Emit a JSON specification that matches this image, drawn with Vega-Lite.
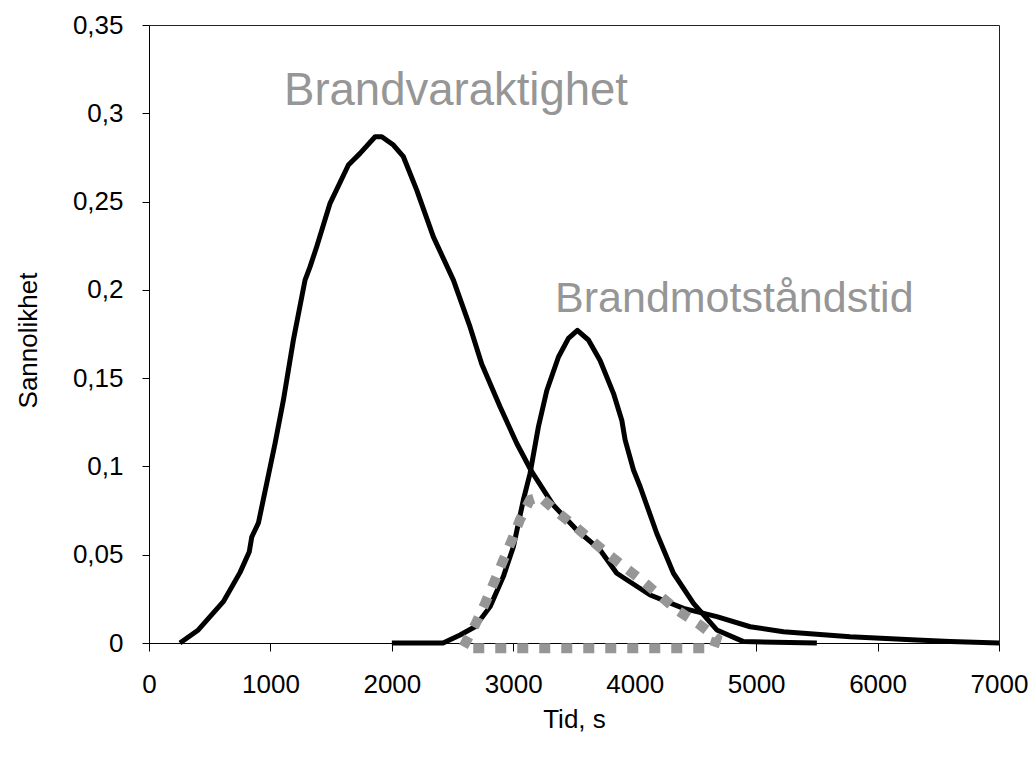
{
  "$schema": "https://vega.github.io/schema/vega-lite/v6.json",
  "width": 850,
  "height": 618,
  "autosize": {"type": "none"},
  "padding": {"left": 149, "top": 25, "right": 35, "bottom": 116},
  "background": "white",
  "config": {
    "view": {"stroke": "#222", "strokeWidth": 1},
    "font": "Liberation Sans",
    "axis": {
      "grid": false,
      "domainColor": "#000",
      "tickColor": "#000",
      "labelColor": "#000",
      "titleColor": "#000",
      "labelFont": "Liberation Sans",
      "titleFont": "Liberation Sans",
      "labelFontSize": 26,
      "titleFontSize": 26,
      "titleFontWeight": "normal"
    }
  },
  "data": {
    "values": [
      {"s": "A", "i": 1, "t": 255, "p": 0},
      {"s": "A", "i": 2, "t": 406, "p": 0.0074},
      {"s": "A", "i": 3, "t": 612, "p": 0.0234},
      {"s": "A", "i": 4, "t": 750, "p": 0.040},
      {"s": "A", "i": 5, "t": 826, "p": 0.0517},
      {"s": "A", "i": 6, "t": 846, "p": 0.060},
      {"s": "A", "i": 7, "t": 901, "p": 0.068},
      {"s": "A", "i": 8, "t": 970, "p": 0.0906},
      {"s": "A", "i": 9, "t": 1038, "p": 0.113},
      {"s": "A", "i": 10, "t": 1107, "p": 0.1376},
      {"s": "A", "i": 11, "t": 1189, "p": 0.1716},
      {"s": "A", "i": 12, "t": 1285, "p": 0.2055},
      {"s": "A", "i": 13, "t": 1326, "p": 0.213},
      {"s": "A", "i": 14, "t": 1381, "p": 0.2244},
      {"s": "A", "i": 15, "t": 1491, "p": 0.249},
      {"s": "A", "i": 16, "t": 1642, "p": 0.2707},
      {"s": "A", "i": 17, "t": 1738, "p": 0.2773},
      {"s": "A", "i": 18, "t": 1862, "p": 0.2867},
      {"s": "A", "i": 19, "t": 1917, "p": 0.2867},
      {"s": "A", "i": 20, "t": 2013, "p": 0.282},
      {"s": "A", "i": 21, "t": 2095, "p": 0.2754},
      {"s": "A", "i": 22, "t": 2205, "p": 0.2565},
      {"s": "A", "i": 23, "t": 2342, "p": 0.230},
      {"s": "A", "i": 24, "t": 2507, "p": 0.2055},
      {"s": "A", "i": 25, "t": 2644, "p": 0.179},
      {"s": "A", "i": 26, "t": 2740, "p": 0.158},
      {"s": "A", "i": 27, "t": 2891, "p": 0.1338},
      {"s": "A", "i": 28, "t": 3029, "p": 0.113},
      {"s": "A", "i": 29, "t": 3152, "p": 0.097},
      {"s": "A", "i": 30, "t": 3331, "p": 0.078},
      {"s": "A", "i": 31, "t": 3523, "p": 0.064},
      {"s": "A", "i": 32, "t": 3715, "p": 0.0527},
      {"s": "A", "i": 33, "t": 3852, "p": 0.0395},
      {"s": "A", "i": 34, "t": 4127, "p": 0.0272},
      {"s": "A", "i": 35, "t": 4402, "p": 0.0196},
      {"s": "A", "i": 36, "t": 4676, "p": 0.0149},
      {"s": "A", "i": 37, "t": 4951, "p": 0.0092},
      {"s": "A", "i": 38, "t": 5225, "p": 0.0064},
      {"s": "A", "i": 39, "t": 5774, "p": 0.0036},
      {"s": "A", "i": 40, "t": 6323, "p": 0.0017},
      {"s": "A", "i": 41, "t": 6598, "p": 0.0008},
      {"s": "A", "i": 42, "t": 7000, "p": 0},
      {"s": "B", "i": 1, "t": 2000, "p": 0},
      {"s": "B", "i": 2, "t": 2422, "p": 0},
      {"s": "B", "i": 3, "t": 2562, "p": 0.0045},
      {"s": "B", "i": 4, "t": 2685, "p": 0.0092},
      {"s": "B", "i": 5, "t": 2809, "p": 0.0206},
      {"s": "B", "i": 6, "t": 2918, "p": 0.0376},
      {"s": "B", "i": 7, "t": 3001, "p": 0.0545},
      {"s": "B", "i": 8, "t": 3083, "p": 0.081},
      {"s": "B", "i": 9, "t": 3138, "p": 0.096},
      {"s": "B", "i": 10, "t": 3207, "p": 0.1225},
      {"s": "B", "i": 11, "t": 3276, "p": 0.143},
      {"s": "B", "i": 12, "t": 3372, "p": 0.162},
      {"s": "B", "i": 13, "t": 3454, "p": 0.1725},
      {"s": "B", "i": 14, "t": 3528, "p": 0.177},
      {"s": "B", "i": 15, "t": 3619, "p": 0.1716},
      {"s": "B", "i": 16, "t": 3715, "p": 0.160},
      {"s": "B", "i": 17, "t": 3825, "p": 0.1414},
      {"s": "B", "i": 18, "t": 3894, "p": 0.126},
      {"s": "B", "i": 19, "t": 3921, "p": 0.115},
      {"s": "B", "i": 20, "t": 3990, "p": 0.098},
      {"s": "B", "i": 21, "t": 4045, "p": 0.0885},
      {"s": "B", "i": 22, "t": 4182, "p": 0.062},
      {"s": "B", "i": 23, "t": 4319, "p": 0.0395},
      {"s": "B", "i": 24, "t": 4484, "p": 0.0225},
      {"s": "B", "i": 25, "t": 4676, "p": 0.0074},
      {"s": "B", "i": 26, "t": 4896, "p": 0.0008},
      {"s": "B", "i": 27, "t": 5500, "p": 0},
      {"s": "C", "i": 1, "t": 2589, "p": -0.002},
      {"s": "C", "i": 2, "t": 2685, "p": 0.0102},
      {"s": "C", "i": 3, "t": 2768, "p": 0.0225},
      {"s": "C", "i": 4, "t": 2850, "p": 0.0357},
      {"s": "C", "i": 5, "t": 2918, "p": 0.047},
      {"s": "C", "i": 6, "t": 2987, "p": 0.058},
      {"s": "C", "i": 7, "t": 3056, "p": 0.070},
      {"s": "C", "i": 8, "t": 3138, "p": 0.081},
      {"s": "C", "i": 9, "t": 3221, "p": 0.0828},
      {"s": "C", "i": 10, "t": 3358, "p": 0.0744},
      {"s": "C", "i": 11, "t": 3495, "p": 0.0668},
      {"s": "C", "i": 12, "t": 3770, "p": 0.0508},
      {"s": "C", "i": 13, "t": 4072, "p": 0.0347},
      {"s": "C", "i": 14, "t": 4347, "p": 0.0187},
      {"s": "C", "i": 15, "t": 4539, "p": 0.0102},
      {"s": "C", "i": 16, "t": 4676, "p": 0.0027},
      {"s": "C", "i": 17, "t": 4648, "p": -0.003},
      {"s": "C", "i": 18, "t": 3600, "p": -0.003},
      {"s": "C", "i": 19, "t": 2589, "p": -0.003}
    ]
  },
  "encoding": {
    "x": {
      "field": "t",
      "type": "quantitative",
      "scale": {"domain": [0, 7000], "nice": false},
      "axis": {
        "title": "Tid, s",
        "values": [0, 1000, 2000, 3000, 4000, 5000, 6000, 7000],
        "format": "d",
        "tickSize": 8,
        "labelPadding": 20,
        "titleY": 84,
        "titleBaseline": "alphabetic",
        "labelFlush": false,
        "labelOverlap": false
      }
    },
    "y": {
      "field": "p",
      "type": "quantitative",
      "scale": {"domain": [0, 0.35], "nice": false, "zero": false},
      "axis": {
        "title": "Sannolikhet",
        "values": [0, 0.05, 0.1, 0.15, 0.2, 0.25, 0.3, 0.35],
        "labelExpr": "replace(toString(datum.value), '.', ',')",
        "tickSize": 7,
        "labelPadding": 19,
        "titleX": -121,
        "titleY": 315,
        "titleAngle": -90,
        "titleAlign": "center",
        "titleBaseline": "middle",
        "labelFlush": false,
        "labelOverlap": false
      }
    },
    "order": {"field": "i", "type": "quantitative"}
  },
  "layer": [
    {
      "transform": [{"filter": "datum.s === 'A'"}],
      "mark": {"type": "line", "color": "#000", "strokeWidth": 5, "strokeJoin": "round", "clip": false}
    },
    {
      "transform": [{"filter": "datum.s === 'B'"}],
      "mark": {"type": "line", "color": "#000", "strokeWidth": 5, "strokeJoin": "round", "clip": false}
    },
    {
      "transform": [{"filter": "datum.s === 'C'"}],
      "mark": {"type": "line", "color": "#969696", "strokeWidth": 10, "strokeDash": [11, 11], "strokeCap": "butt", "strokeJoin": "miter", "clip": false}
    },
    {
      "data": {
        "values": [
          {"label": "Brandvaraktighet", "t": 1112, "p": 0.3046}
        ]
      },
      "mark": {"type": "text", "align": "left", "baseline": "alphabetic", "color": "#969696", "font": "Liberation Sans", "fontSize": 45.5},
      "encoding": {
        "x": {"field": "t", "type": "quantitative"},
        "y": {"field": "p", "type": "quantitative"},
        "text": {"field": "label"},
        "order": null
      }
    },
    {
      "data": {
        "values": [
          {"label": "Brandmotståndstid", "t": 3344, "p": 0.1876}
        ]
      },
      "mark": {"type": "text", "align": "left", "baseline": "alphabetic", "color": "#969696", "font": "Liberation Sans", "fontSize": 43},
      "encoding": {
        "x": {"field": "t", "type": "quantitative"},
        "y": {"field": "p", "type": "quantitative"},
        "text": {"field": "label"},
        "order": null
      }
    }
  ]
}
